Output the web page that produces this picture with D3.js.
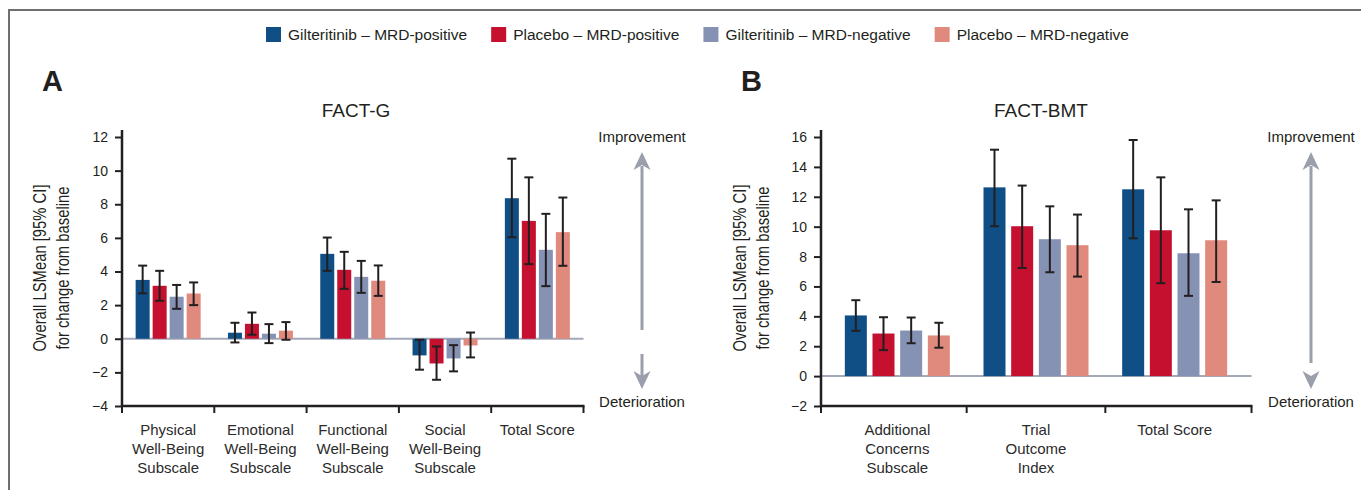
<!DOCTYPE html>
<html>
<head>
<meta charset="utf-8">
<script src="https://cdn.jsdelivr.net/npm/d3@7"></script>
<style>
  body { margin: 0; background: #fff; }
  svg { display: block; font-family: "Liberation Sans", Arial, sans-serif; }
</style>
</head>
<body>
<svg id="chart" width="1361" height="490"></svg>
<script>
// series and colours
const seriesNames = ["Gilteritinib \u2013 MRD-positive", "Placebo \u2013 MRD-positive", "Gilteritinib \u2013 MRD-negative", "Placebo \u2013 MRD-negative"];
const seriesColors = ["#0f4f85", "#c5112f", "#8592b3", "#e0897d"];

// Panel A: FACT-G
const factGCategories = [["Physical", "Well-Being", "Subscale"], ["Emotional", "Well-Being", "Subscale"], ["Functional", "Well-Being", "Subscale"], ["Social", "Well-Being", "Subscale"], ["Total Score"]];
const factGMean  = [[3.5, 3.15, 2.5, 2.69], [0.36, 0.89, 0.3, 0.48], [5.05, 4.1, 3.68, 3.45], [-0.99, -1.47, -1.17, -0.4], [8.36, 7.01, 5.29, 6.34]];
const factGLower = [[2.7, 2.26, 1.78, 2.0], [-0.22, 0.24, -0.26, -0.06], [4.04, 2.97, 2.73, 2.55], [-1.84, -2.44, -1.94, -1.11], [6.04, 4.44, 3.13, 4.34]];
const factGUpper = [[4.35, 4.04, 3.2, 3.35], [0.95, 1.56, 0.87, 0.99], [6.02, 5.17, 4.63, 4.36], [-0.06, -0.46, -0.38, 0.37], [10.71, 9.6, 7.43, 8.4]];
const factGTicks = [-4, -2, 0, 2, 4, 6, 8, 10, 12];

// Panel B: FACT-BMT
const factBmtCategories = [["Additional", "Concerns", "Subscale"], ["Trial", "Outcome", "Index"], ["Total Score"]];
const factBmtMean  = [[4.06, 2.85, 3.05, 2.72], [12.63, 10.03, 9.16, 8.76], [12.5, 9.76, 8.22, 9.09]];
const factBmtLower = [[3.03, 1.74, 2.2, 1.9], [10.03, 7.24, 6.95, 6.66], [9.22, 6.22, 5.37, 6.3]];
const factBmtUpper = [[5.08, 3.94, 3.92, 3.57], [15.15, 12.75, 11.36, 10.81], [15.8, 13.3, 11.16, 11.76]];
const factBmtTicks = [-2, 0, 2, 4, 6, 8, 10, 12, 14, 16];

const ink = "#231f20";
const arrowGray = "#9a9fab";
const svg = d3.select("#chart");

// outer frame (top and left edges visible)
svg.append("path")
  .attr("d", "M9,490 V10 H1361")
  .attr("fill", "none")
  .attr("stroke", "#6f6f6f")
  .attr("stroke-width", 2);

// legend
const legend = svg.append("g").attr("transform", "translate(266,27)");
let lx = 0;
seriesNames.forEach((name, i) => {
  const g = legend.append("g").attr("transform", "translate(" + lx + ",0)");
  g.append("rect").attr("width", 15).attr("height", 15).attr("fill", seriesColors[i]);
  const t = g.append("text")
    .attr("x", 22).attr("y", 13)
    .attr("fill", ink)
    .style("font-size", "15.5px")
    .text(name);
  lx += 22 + t.node().getComputedTextLength() + 24;
});

function drawPanel(opt) {
  const g = svg.append("g");

  const y = d3.scaleLinear().domain(opt.domain).range([406, 137]);
  const x0 = d3.scaleBand().domain(d3.range(opt.categories.length)).range(opt.bandRange);
  const x1 = d3.scaleBand().domain(d3.range(seriesNames.length))
    .range([0, opt.groupWidth]).paddingInner(opt.barPadding);
  const groupLeft = i => x0(i) + (x0.bandwidth() - opt.groupWidth) / 2;

  // panel letter and title
  g.append("text").attr("x", opt.letterX).attr("y", 91)
    .attr("fill", ink).style("font-size", "29px").style("font-weight", "bold")
    .text(opt.letter);
  g.append("text").attr("x", opt.titleX).attr("y", 117)
    .attr("text-anchor", "middle").attr("fill", ink).style("font-size", "19px")
    .text(opt.title);

  // zero line
  g.append("line")
    .attr("x1", opt.axisX).attr("x2", opt.axisEnd)
    .attr("y1", y(0)).attr("y2", y(0))
    .attr("stroke", "#a3a9b8").attr("stroke-width", 2);

  // bars
  opt.mean.forEach((vals, ci) => {
    const grp = g.append("g").attr("transform", "translate(" + groupLeft(ci) + ",0)");
    grp.selectAll("rect")
      .data(vals)
      .enter()
      .append("rect")
      .attr("x", (d, si) => x1(si))
      .attr("width", x1.bandwidth())
      .attr("y", d => y(Math.max(0, d)))
      .attr("height", d => Math.abs(y(d) - y(0)))
      .attr("fill", (d, si) => seriesColors[si]);

    // error bars
    const err = grp.selectAll("g.err")
      .data(vals.map((d, si) => ({ si: si, lo: opt.lower[ci][si], hi: opt.upper[ci][si] })))
      .enter()
      .append("g")
      .attr("class", "err")
      .attr("stroke", ink)
      .attr("stroke-width", 2);
    const cx = d => x1(d.si) + x1.bandwidth() / 2;
    err.append("line").attr("x1", cx).attr("x2", cx).attr("y1", d => y(d.lo)).attr("y2", d => y(d.hi));
    err.append("line").attr("x1", d => cx(d) - 4.5).attr("x2", d => cx(d) + 4.5).attr("y1", d => y(d.lo)).attr("y2", d => y(d.lo));
    err.append("line").attr("x1", d => cx(d) - 4.5).attr("x2", d => cx(d) + 4.5).attr("y1", d => y(d.hi)).attr("y2", d => y(d.hi));
  });

  // y axis
  const yAxis = d3.axisLeft(y).tickValues(opt.ticks).tickSize(7).tickPadding(7);
  const ya = g.append("g").attr("transform", "translate(" + opt.axisX + ",0)").call(yAxis);
  ya.select("path.domain").remove();
  ya.selectAll(".tick line").attr("stroke", ink).attr("stroke-width", 2);
  ya.selectAll(".tick text").attr("fill", ink).style("font-size", "14px").style("font-family", "inherit");
  g.append("line")
    .attr("x1", opt.axisX).attr("x2", opt.axisX)
    .attr("y1", 130).attr("y2", 407)
    .attr("stroke", ink).attr("stroke-width", 2.5);

  // x axis line and category dividers
  g.append("line")
    .attr("x1", opt.axisX - 1).attr("x2", opt.axisEnd + 1)
    .attr("y1", 406).attr("y2", 406)
    .attr("stroke", ink).attr("stroke-width", 2.5);
  const dividers = [opt.axisX].concat(d3.range(1, opt.categories.length).map(i => x0(i)), [opt.axisEnd]);
  g.selectAll("line.divider")
    .data(dividers)
    .enter()
    .append("line")
    .attr("class", "divider")
    .attr("x1", d => d).attr("x2", d => d)
    .attr("y1", 406).attr("y2", 413)
    .attr("stroke", ink).attr("stroke-width", 2);

  // category labels
  opt.categories.forEach((lines, ci) => {
    const t = g.append("text")
      .attr("text-anchor", "middle")
      .attr("fill", "#2b2b2b")
      .style("font-size", "15px");
    lines.forEach((ln, li) => {
      t.append("tspan")
        .attr("x", groupLeft(ci) + opt.groupWidth / 2)
        .attr("y", 435 + li * 19)
        .text(ln);
    });
  });

  // y axis title (condensed look)
  const yt = g.append("text")
    .attr("transform", "translate(" + opt.labelX + ",268) rotate(-90) scale(0.78,1)")
    .attr("text-anchor", "middle")
    .attr("fill", ink)
    .style("font-size", "19px");
  yt.append("tspan").attr("x", 0).attr("y", 0).text("Overall LSMean [95% CI]");
  yt.append("tspan").attr("x", 0).attr("y", 23).text("for change from baseline");

  // improvement / deterioration
  g.append("text").attr("x", opt.arrowX).attr("y", 142)
    .attr("text-anchor", "middle").attr("fill", ink).style("font-size", "15px")
    .text("Improvement");
  g.append("text").attr("x", opt.arrowX).attr("y", 406.5)
    .attr("text-anchor", "middle").attr("fill", ink).style("font-size", "15px")
    .text("Deterioration");

  const ag = g.append("g").attr("fill", arrowGray).attr("stroke", arrowGray);
  ag.append("line")
    .attr("x1", opt.arrowX).attr("x2", opt.arrowX)
    .attr("y1", opt.upStemEnd).attr("y2", 166)
    .attr("stroke-width", 3);
  ag.append("path")
    .attr("d", "M" + opt.arrowX + ",152 l8.5,18 l-8.5,-5 l-8.5,5 Z")
    .attr("stroke", "none");
  if (opt.downStemStart < 372) {
    ag.append("line")
      .attr("x1", opt.arrowX).attr("x2", opt.arrowX)
      .attr("y1", opt.downStemStart).attr("y2", 376)
      .attr("stroke-width", 3);
  }
  ag.append("path")
    .attr("d", "M" + opt.arrowX + ",389 l8.5,-18 l-8.5,5 l-8.5,-5 Z")
    .attr("stroke", "none");
}

drawPanel({
  letter: "A", letterX: 42, title: "FACT-G", titleX: 356,
  categories: factGCategories, mean: factGMean, lower: factGLower, upper: factGUpper,
  ticks: factGTicks, domain: [-4, 12],
  axisX: 122, axisEnd: 583.5, bandRange: [122, 583.5],
  groupWidth: 65, barPadding: 3 / 17,
  labelX: 46, arrowX: 642, upStemEnd: 330, downStemStart: 354
});

drawPanel({
  letter: "B", letterX: 741, title: "FACT-BMT", titleX: 1041,
  categories: factBmtCategories, mean: factBmtMean, lower: factBmtLower, upper: factBmtUpper,
  ticks: factBmtTicks, domain: [-2, 16],
  axisX: 821, axisEnd: 1251.5, bandRange: [828, 1244],
  groupWidth: 105, barPadding: 0.205,
  labelX: 746, arrowX: 1311, upStemEnd: 363, downStemStart: 372
});
</script>
</body>
</html>
